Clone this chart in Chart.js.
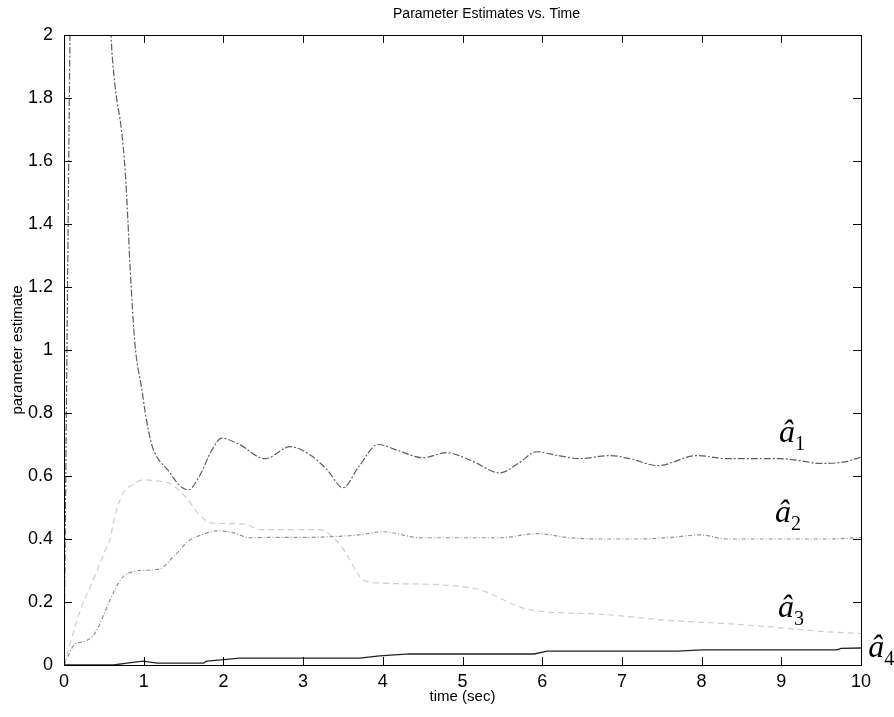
<!DOCTYPE html>
<html>
<head>
<meta charset="utf-8">
<title>Parameter Estimates vs. Time</title>
<script src="https://cdn.jsdelivr.net/npm/chart.js@4.4.1/dist/chart.umd.min.js"></script>
<style>
  html, body { margin: 0; padding: 0; background: #fff; }
  canvas { display: block; }
</style>
</head>
<body>
<canvas id="myChart" width="894" height="717"></canvas>
<script>
// values (time in sec, estimate)
var a1Time = [0, 0.075, 0.1, 0.3, 0.55, 0.59, 0.64, 0.72, 0.77, 0.8, 0.83, 0.89, 0.98, 1.02, 1.1, 1.18, 1.3, 1.45, 1.56, 1.7, 1.85, 1.98, 2.2, 2.52, 2.84, 3.1, 3.3, 3.5, 3.7, 3.94, 4.2, 4.5, 4.8, 5.1, 5.47, 5.7, 5.93, 6.2, 6.47, 6.85, 7.1, 7.45, 7.94, 8.32, 8.7, 8.98, 9.2, 9.49, 9.8, 10];
var a1Values = [0, 2.0, 2.6, 3.0, 2.3, 2.0, 1.84, 1.7, 1.56, 1.42, 1.26, 1.02, 0.87, 0.8, 0.7, 0.655, 0.62, 0.57, 0.556, 0.6, 0.68, 0.72, 0.7, 0.655, 0.693, 0.665, 0.62, 0.563, 0.63, 0.7, 0.68, 0.658, 0.674, 0.65, 0.61, 0.64, 0.677, 0.665, 0.655, 0.665, 0.655, 0.633, 0.665, 0.655, 0.655, 0.655, 0.65, 0.64, 0.645, 0.66];

var a2Time = [0, 0.14, 0.23, 0.35, 0.41, 0.55, 0.64, 0.74, 0.85, 0.95, 1.2, 1.37, 1.58, 1.75, 1.92, 2.12, 2.33, 2.6, 3.0, 3.3, 3.7, 4.0, 4.47, 5.0, 5.47, 5.93, 6.35, 6.72, 7.23, 7.6, 7.98, 8.32, 9.0, 9.6, 10];
var a2Values = [0, 0.067, 0.073, 0.089, 0.11, 0.19, 0.24, 0.28, 0.295, 0.3, 0.305, 0.343, 0.397, 0.415, 0.426, 0.42, 0.404, 0.405, 0.405, 0.407, 0.413, 0.423, 0.404, 0.404, 0.404, 0.417, 0.404, 0.4, 0.4, 0.405, 0.413, 0.4, 0.4, 0.4, 0.405];

var a3Time = [0, 0.2, 0.4, 0.51, 0.58, 0.62, 0.74, 0.85, 0.99, 1.15, 1.33, 1.54, 1.7, 1.87, 2.25, 2.46, 3.2, 3.4, 3.55, 3.67, 3.75, 4.0, 4.76, 5.2, 5.85, 6.69, 7.52, 8.57, 9.6, 10];
var a3Values = [0, 0.17, 0.29, 0.36, 0.4, 0.455, 0.545, 0.57, 0.588, 0.585, 0.576, 0.53, 0.476, 0.45, 0.448, 0.43, 0.43, 0.4, 0.35, 0.296, 0.27, 0.26, 0.254, 0.24, 0.175, 0.162, 0.143, 0.127, 0.105, 0.1];

var a4Time = [0, 0.62, 0.79, 0.99, 1.17, 1.75, 1.79, 2.04, 2.2, 3.71, 3.96, 4.34, 5.9, 6.06, 6.72, 7.69, 8.02, 9.7, 9.75, 10];
var a4Values = [0, 0, 0.006, 0.012, 0.006, 0.006, 0.012, 0.018, 0.022, 0.022, 0.029, 0.035, 0.035, 0.044, 0.044, 0.044, 0.048, 0.048, 0.053, 0.054];

var xTickValues = [0, 1, 2, 3, 4, 5, 6, 7, 8, 9, 10];
var xTickLabels = ["0", "1", "2", "3", "4", "5", "6", "7", "8", "9", "10"];
var yTickValues = [0, 0.2, 0.4, 0.6, 0.8, 1, 1.2, 1.4, 1.6, 1.8, 2];
var yTickLabels = ["0", "0.2", "0.4", "0.6", "0.8", "1", "1.2", "1.4", "1.6", "1.8", "2"];

var chartTitle = "Parameter Estimates vs. Time";

// curve names written next to the curves, anchored in data units
var curveSubscripts = ["1", "2", "3", "4"];
var curveLabelTime = [8.97, 8.92, 8.96, 10.09];
var curveLabelValue = [0.709, 0.455, 0.153, 0.025];

function toPoints(ts, vs) {
  var pts = [];
  for (var i = 0; i < ts.length; i++) {
    pts.push({ x: ts[i], y: vs[i] });
  }
  return pts;
}

var sans = "'Liberation Sans', Arial, Helvetica, sans-serif";

var frameAndLabels = {
  id: "frameAndLabels",
  afterDatasetsDraw: function (chart) {
    var ctx = chart.ctx;
    var a = chart.chartArea;
    var x = chart.scales.x;
    var y = chart.scales.y;
    ctx.save();
    ctx.strokeStyle = "#000";
    ctx.lineWidth = 1;
    ctx.strokeRect(Math.round(a.left) + 0.5, Math.round(a.top) + 0.5, Math.round(a.width), Math.round(a.height));

    // inward ticks on all four sides
    var len = 8;
    ctx.beginPath();
    for (var i = 0; i < xTickValues.length; i++) {
      var px = Math.round(x.getPixelForValue(xTickValues[i])) + 0.5;
      ctx.moveTo(px, a.bottom);
      ctx.lineTo(px, a.bottom - len);
      ctx.moveTo(px, a.top);
      ctx.lineTo(px, a.top + len);
    }
    for (var j = 0; j < yTickValues.length; j++) {
      var py = Math.round(y.getPixelForValue(yTickValues[j])) + 0.5;
      ctx.moveTo(a.left, py);
      ctx.lineTo(a.left + len, py);
      ctx.moveTo(a.right, py);
      ctx.lineTo(a.right - len, py);
    }
    ctx.stroke();

    // title, sitting a little right of the axes centre as in the scan
    ctx.fillStyle = "#000";
    ctx.font = "14px " + sans;
    ctx.textAlign = "center";
    ctx.textBaseline = "middle";
    ctx.fillText(chartTitle, (a.left + a.right) / 2 + 24, 14);

    // a-hat labels
    ctx.textBaseline = "alphabetic";
    ctx.textAlign = "left";
    for (var k = 0; k < curveSubscripts.length; k++) {
      var lx = x.getPixelForValue(curveLabelTime[k]);
      var ly = y.getPixelForValue(curveLabelValue[k]);
      ctx.font = "italic 32px 'Liberation Serif', 'Times New Roman', serif";
      ctx.fillText("\u00e2", lx, ly);
      var w = ctx.measureText("\u00e2").width;
      ctx.font = "20px 'Liberation Serif', 'Times New Roman', serif";
      ctx.fillText(curveSubscripts[k], lx + w, ly + 8);
    }
    ctx.restore();
  }
};

var ctx = document.getElementById("myChart").getContext("2d");
var myChart = new Chart(ctx, {
  type: "line",
  data: {
    datasets: [
      {
        label: "a1",
        data: toPoints(a1Time, a1Values),
        borderColor: "#5e5e5e",
        borderWidth: 1.2,
        borderDash: [7, 2, 2, 2],
        cubicInterpolationMode: "monotone",
        pointRadius: 0,
        fill: false,
      },
      {
        label: "a2",
        data: toPoints(a2Time, a2Values),
        borderColor: "#939393",
        borderWidth: 1.2,
        borderDash: [4, 2, 1, 2],
        cubicInterpolationMode: "monotone",
        pointRadius: 0,
        fill: false,
      },
      {
        label: "a3",
        data: toPoints(a3Time, a3Values),
        borderColor: "#cdcdcd",
        borderWidth: 1.2,
        borderDash: [6, 4],
        cubicInterpolationMode: "monotone",
        pointRadius: 0,
        fill: false,
      },
      {
        label: "a4",
        data: toPoints(a4Time, a4Values),
        borderColor: "#222222",
        borderWidth: 1.3,
        tension: 0,
        pointRadius: 0,
        fill: false,
      },
    ],
  },
  options: {
    responsive: false,
    devicePixelRatio: 1,
    animation: false,
    events: [],
    layout: { padding: { top: 35, right: 33, bottom: 0, left: 0 } },
    plugins: {
      legend: { display: false },
      tooltip: { enabled: false },
      title: { display: false },
    },
    scales: {
      x: {
        type: "linear",
        min: 0,
        max: 10,
        grid: { display: false },
        border: { display: false },
        afterBuildTicks: function (scale) {
          scale.ticks = xTickValues.map(function (v) { return { value: v }; });
        },
        afterFit: function (scale) { scale.height = 52; },
        ticks: {
          autoSkip: false,
          maxRotation: 0,
          padding: -2,
          color: "#000",
          font: { family: sans, size: 18 },
          callback: function (v, i) { return xTickLabels[i]; },
        },
        title: {
          display: true,
          text: "time (sec)",
          color: "#000",
          font: { family: sans, size: 15 },
          padding: { top: 0, bottom: 11 },
        },
      },
      y: {
        type: "linear",
        min: 0,
        max: 2,
        grid: { display: false },
        border: { display: false },
        afterBuildTicks: function (scale) {
          scale.ticks = yTickValues.map(function (v) { return { value: v }; });
        },
        afterFit: function (scale) { scale.width = 64; },
        ticks: {
          autoSkip: false,
          padding: 3,
          color: "#000",
          font: { family: sans, size: 18 },
          callback: function (v, i) { return yTickLabels[i]; },
        },
        title: {
          display: true,
          text: "parameter estimate",
          color: "#000",
          font: { family: sans, size: 15 },
          padding: { top: 9, bottom: 0 },
        },
      },
    },
  },
  plugins: [frameAndLabels],
});
</script>
</body>
</html>
